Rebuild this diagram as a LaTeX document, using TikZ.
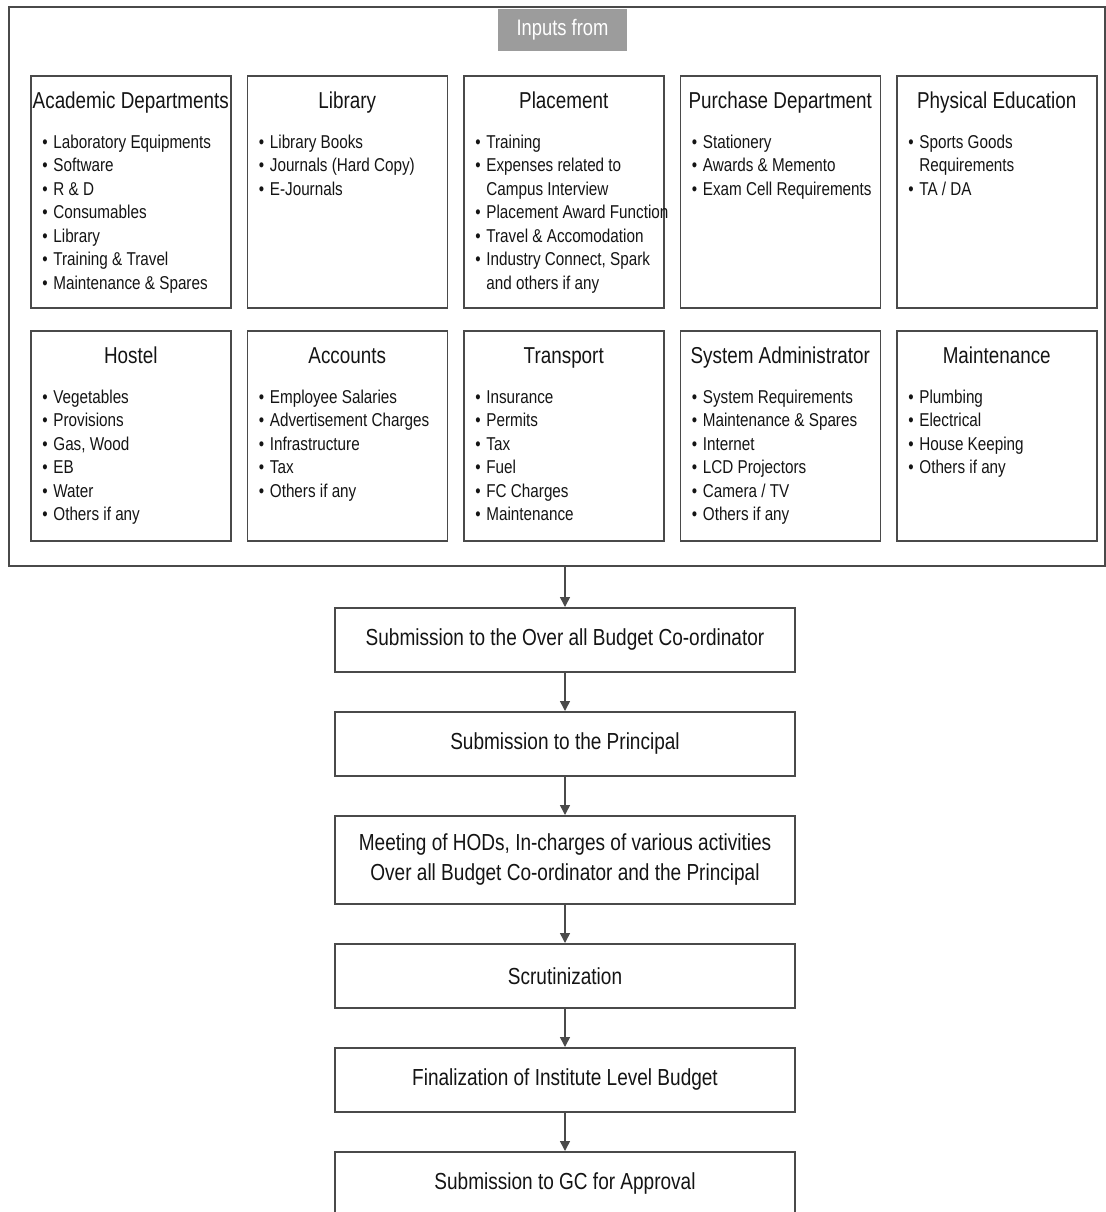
\documentclass[tikz,border=0pt]{standalone}
\usepackage{fontspec}
\setmainfont[FakeStretch=0.82]{Liberation Sans}
\usetikzlibrary{arrows.meta,positioning}
\definecolor{FrameGray}{HTML}{4A4A4A}
\definecolor{TagGray}{HTML}{9C9C9C}
\definecolor{InkGray}{HTML}{141414}
\newcommand{\deptitem}{\makebox[5.5pt][l]{\textbullet}}
\newcommand{\deptcont}{\hspace*{5.5pt}}

\begin{document}
\begin{tikzpicture}[x=0.5pt,y=-0.5pt,node distance=7.5pt]
  \tikzset{
    dept/.style={draw=FrameGray,line width=0.75pt,minimum width=100pt,minimum height=116pt,inner sep=0pt},
    deptlow/.style={dept,minimum height=105pt},
    depttitle/.style={anchor=base,inner sep=0pt,text=InkGray,font=\fontsize{11.5}{13}\selectfont},
    deptlist/.style={anchor=north west,inner sep=0pt,align=left,text=InkGray,font=\fontsize{9.3}{11.75}\selectfont},
    flowbox/.style={draw=FrameGray,line width=0.75pt,minimum width=230pt,minimum height=32pt,inner sep=0pt,
      align=center,text=InkGray,font=\fontsize{11.6}{15}\selectfont},
    flowarrow/.style={draw=FrameGray,line width=0.75pt,-{Triangle[length=5pt,width=5pt,fill=FrameGray]}}
  }
  \useasboundingbox (0,0) rectangle (1106,1212);

  % outer frame and its tag
  \node[draw=FrameGray,line width=0.75pt,minimum width=548pt,minimum height=279.5pt,inner sep=0pt,anchor=north west] (inputs) at (8,6) {};
  \node[fill=TagGray,text=white,minimum width=64.5pt,minimum height=21pt,inner sep=0pt,
    font=\fontsize{11.2}{13}\selectfont] (tag) at (562.5,30) {Inputs from};

  % upper row
  \node[dept,anchor=north west] (acad) at (30,75) {};
  \node[dept,right=of acad] (lib) {};
  \node[dept,right=of lib] (place) {};
  \node[dept,right=of place] (purchase) {};
  \node[dept,right=of purchase] (phyed) {};

  % lower row
  \node[deptlow,below=10.75pt of acad] (hostel) {};
  \node[deptlow,right=of hostel] (accounts) {};
  \node[deptlow,right=of accounts] (transport) {};
  \node[deptlow,right=of transport] (sysadmin) {};
  \node[deptlow,right=of sysadmin] (maint) {};

  % titles
  \node[depttitle] at ([yshift=-16.5pt]acad.north) {Academic Departments};
  \node[depttitle] at ([yshift=-16.5pt]lib.north) {Library};
  \node[depttitle] at ([yshift=-16.5pt]place.north) {Placement};
  \node[depttitle] at ([yshift=-16.5pt]purchase.north) {Purchase Department};
  \node[depttitle] at ([yshift=-16.5pt]phyed.north) {Physical Education};
  \node[depttitle] at ([yshift=-16.5pt]hostel.north) {Hostel};
  \node[depttitle] at ([yshift=-16.5pt]accounts.north) {Accounts};
  \node[depttitle] at ([yshift=-16.5pt]transport.north) {Transport};
  \node[depttitle] at ([yshift=-16.5pt]sysadmin.north) {System Administrator};
  \node[depttitle] at ([yshift=-16.5pt]maint.north) {Maintenance};

  % item lists
  \node[deptlist] at ([xshift=6pt,yshift=-28.3pt]acad.north west)
    {\strut\deptitem Laboratory Equipments\\ \deptitem Software\\ \deptitem R \& D\\ \deptitem Consumables\\
     \deptitem Library\\ \deptitem Training \& Travel\\ \deptitem Maintenance \& Spares};
  \node[deptlist] at ([xshift=6pt,yshift=-28.3pt]lib.north west)
    {\strut\deptitem Library Books\\ \deptitem Journals (Hard Copy)\\ \deptitem E-Journals};
  \node[deptlist] at ([xshift=6pt,yshift=-28.3pt]place.north west)
    {\strut\deptitem Training\\ \deptitem Expenses related to\\ \deptcont Campus Interview\\ \deptitem Placement Award Function\\
     \deptitem Travel \& Accomodation\\ \deptitem Industry Connect, Spark\\ \deptcont and others if any};
  \node[deptlist] at ([xshift=6pt,yshift=-28.3pt]purchase.north west)
    {\strut\deptitem Stationery\\ \deptitem Awards \& Memento\\ \deptitem Exam Cell Requirements};
  \node[deptlist] at ([xshift=6pt,yshift=-28.3pt]phyed.north west)
    {\strut\deptitem Sports Goods\\ \deptcont Requirements\\ \deptitem TA / DA};
  \node[deptlist] at ([xshift=6pt,yshift=-28.3pt]hostel.north west)
    {\strut\deptitem Vegetables\\ \deptitem Provisions\\ \deptitem Gas, Wood\\ \deptitem EB\\ \deptitem Water\\ \deptitem Others if any};
  \node[deptlist] at ([xshift=6pt,yshift=-28.3pt]accounts.north west)
    {\strut\deptitem Employee Salaries\\ \deptitem Advertisement Charges\\ \deptitem Infrastructure\\ \deptitem Tax\\ \deptitem Others if any};
  \node[deptlist] at ([xshift=6pt,yshift=-28.3pt]transport.north west)
    {\strut\deptitem Insurance\\ \deptitem Permits\\ \deptitem Tax\\ \deptitem Fuel\\ \deptitem FC Charges\\ \deptitem Maintenance};
  \node[deptlist] at ([xshift=6pt,yshift=-28.3pt]sysadmin.north west)
    {\strut\deptitem System Requirements\\ \deptitem Maintenance \& Spares\\ \deptitem Internet\\ \deptitem LCD Projectors\\
     \deptitem Camera / TV\\ \deptitem Others if any};
  \node[deptlist] at ([xshift=6pt,yshift=-28.3pt]maint.north west)
    {\strut\deptitem Plumbing\\ \deptitem Electrical\\ \deptitem House Keeping\\ \deptitem Others if any};

  % approval flow
  \node[flowbox,anchor=north] (coord) at (565,607) {Submission to the Over all Budget Co-ordinator};
  \node[flowbox,below=19.25pt of coord] (principal) {Submission to the Principal};
  \node[flowbox,minimum height=44pt,below=19.25pt of principal] (meeting)
    {Meeting of HODs, In-charges of various activities\\Over all Budget Co-ordinator and the Principal};
  \node[flowbox,below=19.25pt of meeting] (scrutiny) {Scrutinization};
  \node[flowbox,below=19.25pt of scrutiny] (final) {Finalization of Institute Level Budget};
  \node[flowbox,below=19.25pt of final] (approval) {Submission to GC for Approval};

  \draw[flowarrow] (inputs.south -| coord.north) -- (coord.north);
  \foreach \from/\to in {coord/principal,principal/meeting,meeting/scrutiny,scrutiny/final,final/approval}
    \draw[flowarrow] (\from) -- (\to);
\end{tikzpicture}
\end{document}
